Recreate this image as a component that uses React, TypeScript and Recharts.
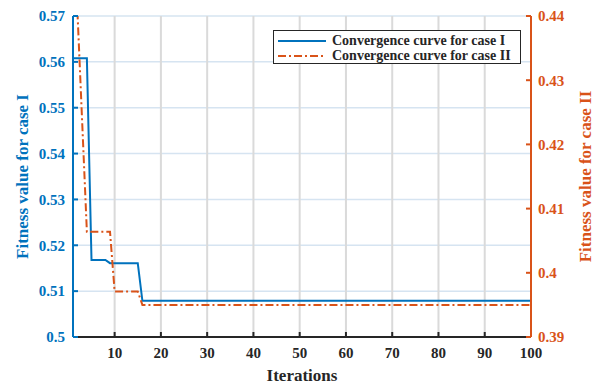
import React from 'react';
import { LineChart, Line, XAxis, YAxis, CartesianGrid, Legend } from 'recharts';

const caseIIters = [1, 4, 5, 8, 9, 15, 16, 100];
const caseIValues = [0.5608, 0.5608, 0.5168, 0.5168, 0.5161, 0.5161, 0.5079, 0.5079];

const caseIIIters = [1, 2, 4, 9, 10, 15, 16, 100];
const caseIIValues = [0.44, 0.44, 0.4064, 0.4064, 0.3971, 0.3971, 0.395, 0.395];

const xTicks = [10, 20, 30, 40, 50, 60, 70, 80, 90, 100];
const leftTicks = [0.5, 0.51, 0.52, 0.53, 0.54, 0.55, 0.56, 0.57];
const rightTicks = [0.39, 0.4, 0.41, 0.42, 0.43, 0.44];

const seriesNames = ['Convergence curve for case I', 'Convergence curve for case II'];
const axisTitles = ['Iterations', 'Fitness value for case I', 'Fitness value for case II'];

const BLUE = '#0072BD';
const ORANGE = '#D95319';
const DARK = '#262626';
const FONT = "'Liberation Serif', 'Times New Roman', serif";
const DASH = '8 3 2 3';

const caseIData = caseIIters.map((it, i) => ({ it, v: caseIValues[i] }));
const caseIIData = caseIIIters.map((it, i) => ({ it, v: caseIIValues[i] }));

const makeTick = (fill: string) => (props: any) => {
  const { x, y, payload, textAnchor, verticalAnchor } = props;
  const dy = verticalAnchor === 'start' ? '0.71em' : verticalAnchor === 'end' ? '0em' : '0.355em';
  return (
    <text
      x={x}
      y={y}
      dy={dy}
      textAnchor={textAnchor}
      fill={fill}
      fontSize={15}
      fontWeight="bold"
      style={{ fontFamily: FONT }}
    >
      {String(payload.value)}
    </text>
  );
};

const LegendBox = () => (
  <div
    style={{
      border: `1.5px solid ${DARK}`,
      background: '#fff',
      boxSizing: 'border-box',
      width: 248,
      height: 34,
      padding: '2px 0 0 3px',
      fontFamily: FONT,
      fontWeight: 'bold',
      fontSize: 14,
      lineHeight: '15px',
      color: DARK,
    }}
  >
    {[
      { name: seriesNames[0], color: BLUE, dash: undefined },
      { name: seriesNames[1], color: ORANGE, dash: DASH },
    ].map((e) => (
      <div key={e.name} style={{ display: 'flex', alignItems: 'center', height: 15, whiteSpace: 'nowrap' }}>
        <svg width={51} height={10} style={{ marginRight: 4 }}>
          <line x1={1} y1={5} x2={49} y2={5} stroke={e.color} strokeWidth={2} strokeDasharray={e.dash} />
        </svg>
        <span>{e.name}</span>
      </div>
    ))}
  </div>
);

const rotLabel = (text: string, color: string, dxFromAxisX: number) => (props: any) => {
  const vb = props.viewBox || {};
  const x = vb.x + dxFromAxisX;
  const y = vb.y + vb.height / 2;
  return (
    <text
      x={x}
      y={y}
      transform={`rotate(-90, ${x}, ${y})`}
      textAnchor="middle"
      dominantBaseline="central"
      fill={color}
      fontSize={17}
      fontWeight="bold"
      style={{ fontFamily: FONT }}
    >
      {text}
    </text>
  );
};

const xLabel = (props: any) => {
  const vb = props.viewBox || {};
  return (
    <text
      x={vb.x + vb.width / 2}
      y={vb.y + 38}
      textAnchor="middle"
      dominantBaseline="central"
      fill={DARK}
      fontSize={17}
      fontWeight="bold"
      style={{ fontFamily: FONT }}
    >
      {axisTitles[0]}
    </text>
  );
};

export default function App() {
  return (
    <div style={{ position: 'absolute', left: 0, top: 0, width: 601, height: 383, background: '#fff', fontFamily: FONT }}>
      <LineChart width={601} height={383} margin={{ top: 16, right: 0, bottom: 0, left: 0 }}>
        <XAxis
          xAxisId="bottom"
          type="number"
          dataKey="it"
          domain={[1, 100]}
          ticks={xTicks}
          allowDataOverflow
          orientation="bottom"
          height={46}
          stroke={DARK}
          strokeWidth={2}
          tickSize={-5}
          tickMargin={15}
          tick={makeTick(DARK)}
          label={{ content: xLabel }}
        />
        <XAxis
          xAxisId="top"
          type="number"
          dataKey="it"
          domain={[1, 100]}
          ticks={xTicks}
          allowDataOverflow
          orientation="top"
          height={0}
          stroke={DARK}
          strokeWidth={2}
          tickSize={-5}
          tick={false}
        />
        <YAxis
          yAxisId="left"
          type="number"
          domain={[0.5, 0.57]}
          ticks={leftTicks}
          allowDataOverflow
          orientation="left"
          width={73}
          stroke={BLUE}
          strokeWidth={2}
          tickSize={-5}
          tickMargin={13}
          tick={makeTick(BLUE)}
          label={{ content: rotLabel(axisTitles[1], BLUE, 22.5) }}
        />
        <YAxis
          yAxisId="right"
          type="number"
          domain={[0.39, 0.44]}
          ticks={rightTicks}
          allowDataOverflow
          orientation="right"
          width={70}
          stroke={ORANGE}
          strokeWidth={2}
          tickSize={-5}
          tickMargin={12}
          tick={makeTick(ORANGE)}
          label={{ content: rotLabel(axisTitles[2], ORANGE, 54) }}
        />
        <CartesianGrid xAxisId="bottom" yAxisId="left" horizontal={true} vertical={false} stroke="#d6e4f1" strokeWidth={1.5} />
        <CartesianGrid xAxisId="bottom" yAxisId="left" horizontal={false} vertical={true} stroke="#dadada" strokeWidth={2} />
        <Line
          xAxisId="bottom"
          yAxisId="left"
          data={caseIData}
          dataKey="v"
          name={seriesNames[0]}
          type="linear"
          stroke={BLUE}
          strokeWidth={2}
          dot={false}
          isAnimationActive={false}
        />
        <Line
          xAxisId="bottom"
          yAxisId="right"
          data={caseIIData}
          dataKey="v"
          name={seriesNames[1]}
          type="linear"
          stroke={ORANGE}
          strokeWidth={2}
          strokeDasharray={DASH}
          dot={false}
          isAnimationActive={false}
        />
        <Legend
          layout="horizontal"
          verticalAlign="middle"
          align="center"
          content={() => <LegendBox />}
          wrapperStyle={{ position: 'absolute', left: 273, top: 30, width: 248, height: 34 }}
        />
      </LineChart>
    </div>
  );
}
